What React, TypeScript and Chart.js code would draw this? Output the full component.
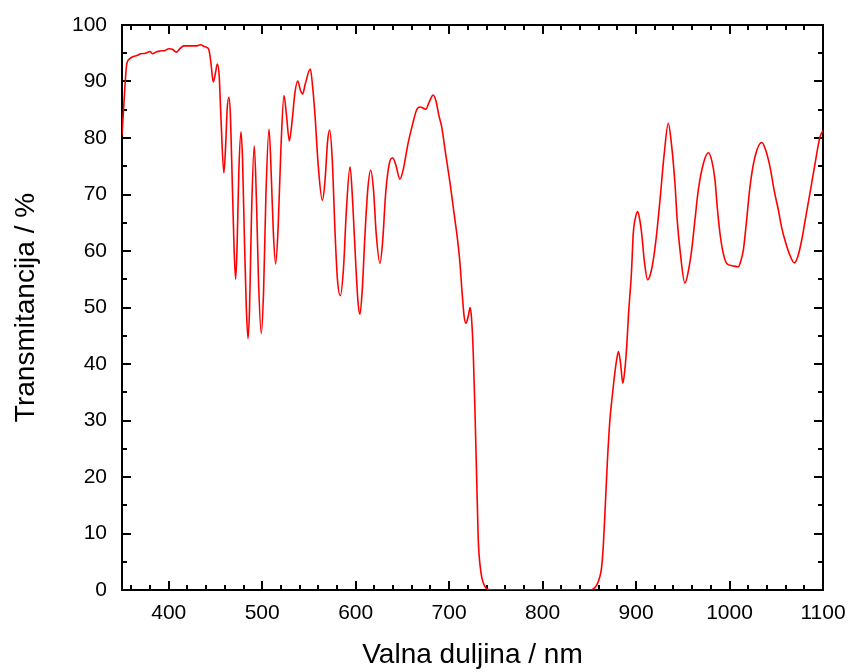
import React, { useEffect, useRef } from 'react';
import { Chart, registerables } from 'chart.js';

Chart.register(...registerables);

const wavelengths = [
  350, 352, 355, 358, 362, 366, 370, 375, 380, 383, 386, 391, 396, 400, 404, 408, 412, 416, 424, 430,
  434, 438, 441, 443, 445, 447.7, 450, 452, 454, 456, 459, 461, 462.5, 464.3, 466, 468, 470, 471.6, 473, 475,
  477.3, 479, 481, 483, 484.8, 486.5, 488.5, 491.5, 494, 496, 499, 501.5, 504, 507.3, 510, 512, 514.4, 517, 520, 523.3,
  526, 529, 532, 535, 538, 541, 543.3, 546, 551.5, 554, 556.5, 560, 564.3, 567, 570, 572.2, 575, 578, 580.5, 583.6,
  587, 590, 594, 597, 600, 602.5, 604.6, 607, 610, 613, 616, 619, 622, 626, 629, 632, 636, 639.6, 643, 647.4,
  651, 656, 661, 665.3, 669, 675, 679, 683, 686, 689, 692, 696, 701, 705, 709, 711.5, 713.4, 716, 718, 720.5,
  722.5, 724, 725.8, 727.7, 729.5, 731.2, 733, 735, 738, 742, 748, 850, 855, 858, 861, 863.2, 865, 866.7, 869.2, 872,
  874, 876.4, 879, 881.2, 883.5, 885.8, 888, 890, 892, 895, 897, 899.5, 901.7, 904, 906, 909, 912.4, 915, 918.4, 922,
  925.6, 930, 934.5, 937.5, 941.6, 944, 947, 952.3, 956, 959.5, 963, 966.6, 972, 977.3, 981, 984.4, 987, 989.8, 993, 997,
  1003, 1009.4, 1012, 1014.8, 1018, 1021.9, 1027, 1034.4, 1038, 1043.3, 1048, 1052.2, 1056, 1059.3, 1064, 1069.3, 1073, 1077.2, 1081, 1086,
  1091, 1096.8, 1100,
];

const transmittance = [
  80.5, 86, 93.0, 94.0, 94.4, 94.6, 94.9, 95.0, 95.3, 94.9, 95.2, 95.4, 95.5, 95.8, 95.7, 95.2, 95.8, 96.3, 96.3, 96.3,
  96.5, 96.2, 96.0, 95.6, 93.5, 89.9, 91.5, 93.1, 91, 83, 73.8, 79, 85, 87.2, 84, 72, 60, 55.0, 60, 74,
  81.1, 76, 62, 50, 44.5, 50, 66, 78.6, 68, 55, 45.4, 53, 70, 81.6, 72, 63, 57.7, 64, 78, 87.5,
  84, 79.5, 83, 88, 90.1, 88.4, 87.8, 89.5, 92.2, 89, 84, 75, 69.0, 72, 79.5, 81.4, 76, 63, 55, 52.1,
  57, 67, 74.9, 68, 58, 51, 48.8, 53, 63, 71, 74.3, 71, 63, 57.8, 62, 70, 75.5, 76.5, 75.2, 72.7,
  74.5, 79.0, 82.5, 85.0, 85.5, 85.1, 86.5, 87.6, 86.5, 84, 82, 77.5, 72, 67, 62, 58, 53.7, 48.5, 47.2, 48.5,
  50.0, 48, 42, 31.3, 19.5, 8.7, 4.5, 2.2, 0.7, 0.1, 0, 0, 0.3, 0.9, 2.2, 4.1, 8, 13.6, 22.4, 30.1,
  33.5, 37.2, 40.5, 42.2, 40, 36.6, 39, 43.1, 49, 56, 63.1, 66, 67.0, 65.5, 63.1, 58, 54.9, 55.7, 58.4, 63,
  69.0, 77, 82.6, 79.5, 72.0, 65.5, 60.2, 54.3, 56.5, 60.2, 65.5, 70.8, 75.5, 77.4, 76, 72.6, 67.5, 63.1, 59.8, 57.8,
  57.4, 57.2, 58.2, 60.2, 65, 71.4, 76.5, 79.2, 78.2, 74.9, 70.5, 67.3, 64, 61.9, 59.5, 57.9, 59, 61.9, 65.5, 70.2,
  75, 80.2, 81.3,
];

const xRange = [350, 1100];
const yRange = [0, 100];
const xMajorStep = 100;
const xMinorStep = 20;
const yMajorStep = 10;
const yMinorStep = 5;
const xTitle = 'Valna duljina / nm';
const yTitle = 'Transmitancija / %';

const FONT = "'Liberation Sans', Arial, sans-serif";

const framePlugin = {
  id: 'frameTicks',
  beforeDatasetsDraw(chart: any) {
    const { ctx, chartArea: a, scales } = chart;
    const xs = scales.x;
    const ys = scales.y;
    ctx.save();
    ctx.strokeStyle = '#000';
    ctx.lineWidth = 2;
    ctx.beginPath();
    const x0 = Math.ceil(xRange[0] / xMinorStep) * xMinorStep;
    for (let v = x0; v <= xRange[1] + 1e-6; v += xMinorStep) {
      const px = Math.round(xs.getPixelForValue(v));
      const len = v % xMajorStep === 0 ? 9 : 5;
      ctx.moveTo(px, a.bottom);
      ctx.lineTo(px, a.bottom - len);
      ctx.moveTo(px, a.top);
      ctx.lineTo(px, a.top + len);
    }
    for (let v = yRange[0]; v <= yRange[1] + 1e-6; v += yMinorStep) {
      const py = Math.round(ys.getPixelForValue(v));
      const len = v % yMajorStep === 0 ? 9 : 5;
      ctx.moveTo(a.left, py);
      ctx.lineTo(a.left + len, py);
      ctx.moveTo(a.right, py);
      ctx.lineTo(a.right - len, py);
    }
    ctx.stroke();
    ctx.strokeRect(a.left, a.top, a.right - a.left, a.bottom - a.top);
    ctx.restore();
  },
};

const zeroPadding = (s: any) => {
  s.paddingLeft = 0;
  s.paddingRight = 0;
  s.paddingTop = 0;
  s.paddingBottom = 0;
};

export default function App() {
  const canvasRef = useRef<HTMLCanvasElement | null>(null);

  useEffect(() => {
    if (!canvasRef.current) return;
    const points = wavelengths.map((x, i) => ({ x, y: transmittance[i] }));
    const chart = new Chart(canvasRef.current, {
      type: 'line',
      data: {
        datasets: [
          {
            data: points,
            borderColor: '#ff0000',
            borderWidth: 1.6,
            pointRadius: 0,
            fill: false,
            cubicInterpolationMode: 'monotone',
          },
        ],
      },
      options: {
        animation: false,
        responsive: true,
        maintainAspectRatio: false,
        layout: { padding: { top: 25, right: 30, left: 0, bottom: 0 } },
        plugins: {
          legend: { display: false },
          tooltip: { enabled: false },
        },
        scales: {
          x: {
            type: 'linear',
            min: xRange[0],
            max: xRange[1],
            grid: { display: false, drawTicks: false },
            border: { display: false },
            ticks: {
              stepSize: xMajorStep,
              includeBounds: false,
              color: '#000',
              padding: 11,
              maxRotation: 0,
              font: { family: FONT, size: 21 },
              callback: (v: any) => String(v),
            },
            title: {
              display: true,
              text: xTitle,
              color: '#000',
              font: { family: FONT, size: 28 },
              padding: { top: 0, bottom: 0 },
            },
            afterFit: (s: any) => {
              s.height = 82;
              zeroPadding(s);
            },
          },
          y: {
            type: 'linear',
            min: yRange[0],
            max: yRange[1],
            grid: { display: false, drawTicks: false },
            border: { display: false },
            ticks: {
              stepSize: yMajorStep,
              color: '#000',
              padding: 15,
              font: { family: FONT, size: 21 },
              callback: (v: any) => String(v),
            },
            title: {
              display: true,
              text: yTitle,
              color: '#000',
              font: { family: FONT, size: 28 },
              padding: { top: 9, bottom: 0 },
            },
            afterFit: (s: any) => {
              s.width = 122;
              zeroPadding(s);
            },
          },
        },
      },
      plugins: [framePlugin],
    });
    return () => chart.destroy();
  }, []);

  return (
    <div style={{ position: 'fixed', left: 0, top: 0, width: 853, height: 672, background: '#fff' }}>
      <canvas ref={canvasRef} />
    </div>
  );
}
